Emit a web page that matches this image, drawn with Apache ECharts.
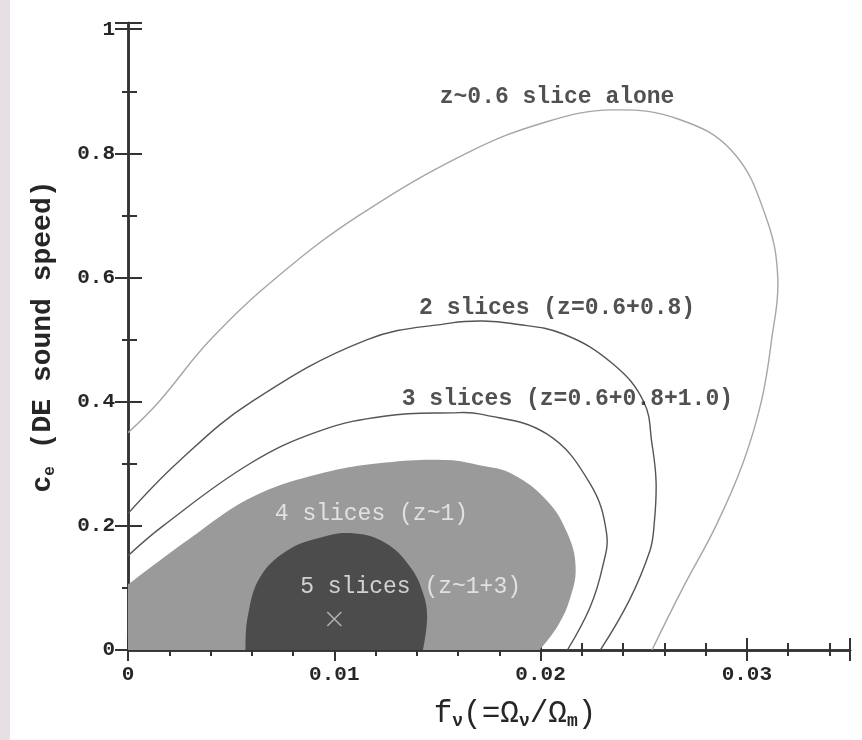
<!DOCTYPE html>
<html>
<head>
<meta charset="utf-8">
<script src="https://cdn.jsdelivr.net/npm/echarts@6/dist/echarts.min.js"></script>
<style>
  html, body { margin: 0; padding: 0; background: #fff; }
  #chart { width: 862px; height: 740px; }
</style>
</head>
<body>
<div id="chart"></div>
<script>
// Contour of the z~0.6 slice alone (f_nu, c_e)
const curveSlice1 = [
  [0, 0.35], [0.0015, 0.40], [0.004, 0.5], [0.0072, 0.6], [0.0112, 0.7],
  [0.0164, 0.8], [0.0203, 0.851], [0.0235, 0.870], [0.0267, 0.855],
  [0.0293, 0.803], [0.0309, 0.7], [0.0315, 0.6], [0.0312, 0.5], [0.0307, 0.4],
  [0.0298, 0.3], [0.0285, 0.2], [0.0269, 0.1], [0.0254, 0]
];
// 2 slices (z=0.6+0.8)
const curveSlices2 = [
  [0, 0.22], [0.0025, 0.305], [0.006, 0.4], [0.0116, 0.5], [0.0157, 0.527],
  [0.0172, 0.53], [0.0186, 0.526], [0.0211, 0.509], [0.0235, 0.461],
  [0.025, 0.4], [0.0254, 0.332], [0.0256, 0.27], [0.0255, 0.2],
  [0.0253, 0.16], [0.0243, 0.08], [0.0229, 0]
];
// 3 slices (z=0.6+0.8+1.0)
const curveSlices3 = [
  [0, 0.152], [0.0017, 0.2], [0.0059, 0.3], [0.0093, 0.353], [0.0125, 0.377],
  [0.0157, 0.382], [0.0171, 0.38], [0.0203, 0.348], [0.0224, 0.268],
  [0.0232, 0.188], [0.0230, 0.133], [0.0224, 0.069], [0.0213, 0]
];
// 4 slices (z~1): filled region, first entry is the axes corner
const regionSlices4 = [
  [0, 0], [0, 0.105], [0.0029, 0.177], [0.006, 0.246], [0.0093, 0.284],
  [0.0125, 0.302], [0.0155, 0.306], [0.0171, 0.297], [0.0186, 0.284],
  [0.0203, 0.241], [0.0213, 0.188], [0.0217, 0.133], [0.0214, 0.08],
  [0.0208, 0.037], [0.01995, 0]
];
// 5 slices (z~1+3): filled region
const regionSlices5 = [
  [0.0057, 0], [0.0058, 0.053], [0.0064, 0.117], [0.0077, 0.16],
  [0.0093, 0.181], [0.0109, 0.188], [0.0125, 0.172], [0.0137, 0.133],
  [0.0143, 0.092], [0.0145, 0.053], [0.0143, 0]
];
// fiducial model
const fiducial = [[0.01, 0.05]];

// region labels
const labelTexts = ['z~0.6 slice alone', '2 slices (z=0.6+0.8)', '3 slices (z=0.6+0.8+1.0)', '4 slices (z~1)', '5 slices (z~1+3)'];
const labelPos = [[0.0208, 0.891], [0.0208, 0.551], [0.0213, 0.404], [0.0118, 0.220], [0.0137, 0.101]];
const labelLight = [false, false, false, true, true];

const MONO = '"Liberation Mono", "DejaVu Sans Mono", monospace';
const INK = '#262626';
const SMOOTH = 0.4;

// Filled region: smooth boundary curve, plus a straight-edged piece
// along the axes when the region starts at the corner.
function regionSeries(points, fill, hasCorner) {
  return {
    type: 'custom',
    clip: true,
    silent: true,
    data: points,
    renderItem: function (params, api) {
      if (params.dataIndex !== 0) return null;
      const pts = points.map(p => api.coord(p));
      const edge = hasCorner ? pts.slice(1) : pts;
      const children = [{
        type: 'polyline',
        shape: { points: edge, smooth: SMOOTH },
        style: { fill: fill, stroke: null }
      }];
      if (hasCorner) {
        children.push({
          type: 'polygon',
          shape: { points: [pts[0], edge[0], edge[edge.length - 1]] },
          style: { fill: fill, stroke: fill, lineWidth: 2 }
        });
      }
      return { type: 'group', children: children };
    },
    z: 2
  };
}

function curveSeries(points, color) {
  return {
    type: 'custom',
    clip: true,
    silent: true,
    data: points,
    renderItem: function (params, api) {
      if (params.dataIndex !== 0) return null;
      return {
        type: 'polyline',
        shape: { points: points.map(p => api.coord(p)), smooth: SMOOTH },
        style: { fill: null, stroke: color, lineWidth: 1.4 }
      };
    },
    z: 3
  };
}

const axisLine = { show: true, lineStyle: { color: '#333', width: 2.5 } };

const option = {
  backgroundColor: '#ffffff',
  animation: false,
  graphic: [{
    type: 'rect', left: 0, top: 0, z: -10,
    shape: { width: 10, height: 740 },
    style: { fill: '#e6dfe3' }
  }],
  grid: { left: 128, right: 12, top: 23, bottom: 90 },
  xAxis: [{
    type: 'value', min: 0, max: 0.035, interval: 0.01, position: 'bottom',
    splitLine: { show: false },
    axisLine: axisLine,
    axisTick: { inside: true, length: 12, lineStyle: { color: '#333', width: 2 } },
    minorTick: { show: true, splitNumber: 5, length: 7, lineStyle: { color: '#333', width: 2 } },
    axisLabel: { color: INK, fontFamily: MONO, fontSize: 21, fontWeight: 'bold', margin: 14, showMaxLabel: false },
    name: '{t|f}{s|ν}{t|(=Ω}{s|ν}{t|/Ω}{s|m}{t|)}',
    nameLocation: 'middle',
    nameGap: 48,
    nameTextStyle: {
      padding: [0, 0, 0, 52],
      rich: {
        t: { fontFamily: MONO, fontSize: 31, color: INK, lineHeight: 32, verticalAlign: 'middle' },
        s: { fontFamily: MONO, fontSize: 18, color: INK, fontWeight: 'bold', lineHeight: 14, verticalAlign: 'bottom' }
      }
    }
  }, {
    type: 'value', min: 0, max: 0.035, interval: 0.01, position: 'top',
    splitLine: { show: false },
    axisLine: axisLine,
    axisTick: { inside: true, length: 11, lineStyle: { color: '#333', width: 2 } },
    minorTick: { show: true, splitNumber: 5, length: 6, lineStyle: { color: '#333', width: 2 } },
    axisLabel: { show: false }
  }],
  yAxis: [{
    type: 'value', min: 0, max: 1.01, interval: 0.2, position: 'left',
    splitLine: { show: false },
    axisLine: axisLine,
    axisTick: { inside: true, length: 14, lineStyle: { color: '#333', width: 2 } },
    minorTick: { show: true, splitNumber: 2, length: 9, lineStyle: { color: '#333', width: 2 } },
    axisLabel: { color: INK, fontFamily: MONO, fontSize: 21, fontWeight: 'bold', margin: 13, showMaxLabel: false },
    name: '{t|c}{s|e}{t| (DE sound speed)}',
    nameLocation: 'middle',
    nameGap: 70,
    nameRotate: 90,
    nameTextStyle: {
      rich: {
        t: { fontFamily: MONO, fontSize: 28, fontWeight: 'bold', color: INK, lineHeight: 30, verticalAlign: 'middle' },
        s: { fontFamily: MONO, fontSize: 16, fontWeight: 'bold', color: INK, lineHeight: 14, verticalAlign: 'bottom' }
      }
    }
  }, {
    type: 'value', min: 0, max: 1.01, interval: 0.2, position: 'right',
    splitLine: { show: false },
    axisLine: axisLine,
    axisTick: { inside: true, length: 13, lineStyle: { color: '#333', width: 2 } },
    minorTick: { show: true, splitNumber: 2, length: 6, lineStyle: { color: '#333', width: 2 } },
    axisLabel: { show: false }
  }],
  series: [
    regionSeries(regionSlices4, '#9a9a9a', true),
    regionSeries(regionSlices5, '#4c4c4c', false),
    curveSeries(curveSlice1, '#a6a6a6'),
    curveSeries(curveSlices2, '#555555'),
    curveSeries(curveSlices3, '#555555'),
    {
      type: 'scatter',
      data: fiducial,
      symbol: 'path://M0,0L10,10M10,0L0,10',
      symbolSize: 14,
      silent: true,
      itemStyle: { color: 'rgba(0,0,0,0)', borderColor: '#c8c8c8', borderWidth: 1.6 },
      z: 5
    },
    {
      type: 'scatter',
      silent: true,
      symbolSize: 1,
      itemStyle: { color: 'rgba(0,0,0,0)' },
      data: labelPos.map((p, i) => ({
        value: p,
        label: {
          show: true,
          position: 'inside',
          formatter: labelTexts[i],
          fontFamily: MONO,
          fontSize: 23,
          fontWeight: labelLight[i] ? 'normal' : 'bold',
          color: labelLight[i] ? '#f3f3f3' : INK
        }
      })),
      z: 6
    }
  ]
};

const chart = echarts.init(document.getElementById('chart'), null, { renderer: 'canvas' });
chart.setOption(option);
</script>
</body>
</html>
